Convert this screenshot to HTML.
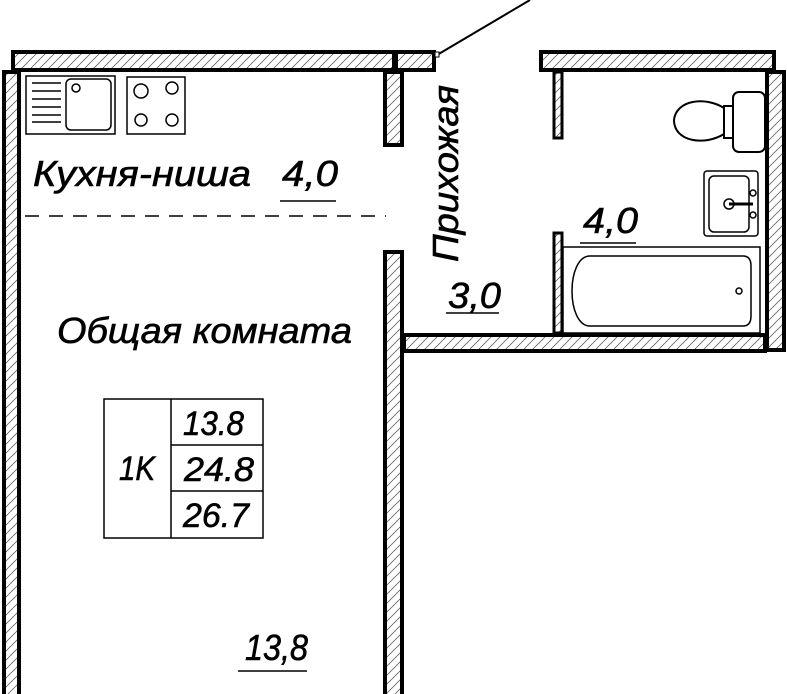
<!DOCTYPE html>
<html><head><meta charset="utf-8"><style>
html,body{margin:0;padding:0;background:#fff;width:787px;height:694px;overflow:hidden}
svg{display:block}
text{font-family:"Liberation Sans","DejaVu Sans",sans-serif;font-style:italic;fill:#000;stroke:#000;stroke-width:0.6}
</style></head><body>
<svg width="787" height="694" viewBox="0 0 787 694" xmlns="http://www.w3.org/2000/svg">
<defs>
<pattern id="h" width="9" height="9" patternUnits="userSpaceOnUse">
<rect width="9" height="9" fill="#fff"/>
<path d="M0 9 L9 0 M-2 2 L2 -2 M7 11 L11 7" stroke="#666" stroke-width="0.8"/>
</pattern>
</defs>
<g fill="url(#h)" stroke="#000" stroke-width="4">
<rect x="13" y="52" width="381" height="18"/>
<rect x="396" y="52" width="38" height="18"/>
<rect x="4" y="72" width="15" height="630"/>
<rect x="385" y="72" width="17" height="73"/>
<rect x="385" y="252" width="17" height="450"/>
<rect x="541" y="52" width="233" height="18"/>
<rect x="767" y="72" width="17" height="278"/>
<rect x="404" y="335" width="361" height="16"/>
</g>
<g fill="url(#h)" stroke="#000" stroke-width="3">
<rect x="554" y="72" width="8" height="66"/>
<rect x="554" y="233" width="8" height="100"/>
</g>
<line x1="437" y1="55" x2="530" y2="0" stroke="#000" stroke-width="2"/>
<rect x="435" y="52" width="4" height="5" fill="#fff" stroke="#000" stroke-width="1"/>
<g fill="none" stroke="#000" stroke-width="1.5">
<rect x="26" y="76" width="89" height="58"/>
<rect x="66" y="79" width="45" height="51" rx="5"/>
<circle cx="76" cy="88" r="4"/>
<path d="M32 83H61M32 91H61M32 99H61M32 107H61M32 115H61M32 122H61"/>
<rect x="127" y="77" width="58" height="57"/>
<circle cx="141" cy="91" r="7"/><circle cx="172" cy="88" r="6"/>
<circle cx="141" cy="120" r="6"/><circle cx="172" cy="120" r="6"/>
</g>
<line x1="25" y1="216" x2="386" y2="216" stroke="#000" stroke-width="1.5" stroke-dasharray="14,10"/>
<g fill="#fff" stroke="#000" stroke-width="2">
<rect x="724" y="106" width="10" height="32"/>
<path d="M724 108 C705 96 676 100 674 120 C674 142 705 146 724 134 Z"/>
<rect x="733" y="92" width="32" height="60" rx="6"/>
</g>
<g fill="none" stroke="#000" stroke-width="1.5">
<rect x="704" y="171" width="54" height="65" rx="3"/>
<rect x="709" y="176" width="40" height="56" rx="5"/>
<circle cx="729" cy="204" r="5"/>
<line x1="729" y1="204" x2="753" y2="204" stroke-width="3"/>
<circle cx="753" cy="193" r="3"/><circle cx="753" cy="215" r="3"/>
</g>
<g fill="none" stroke="#000" stroke-width="1.5">
<rect x="563" y="247" width="197" height="86"/>
<path d="M590 256 H743 Q751 256 751 266 V316 Q751 326 743 326 H590 C566 326 566 256 590 256 Z"/>
<circle cx="739" cy="291" r="3"/>
</g>
<text x="33" y="186" font-size="36" textLength="218" lengthAdjust="spacingAndGlyphs">Кухня-ниша</text>
<text x="282" y="186" font-size="36" textLength="56" lengthAdjust="spacingAndGlyphs">4,0</text>
<line x1="280" y1="201" x2="336" y2="201" stroke="#000" stroke-width="1.5"/>
<text transform="translate(458,262) rotate(-90)" font-size="36" textLength="177" lengthAdjust="spacingAndGlyphs">Прихожая</text>
<text x="448" y="308" font-size="36" textLength="53" lengthAdjust="spacingAndGlyphs">3,0</text>
<line x1="446" y1="313" x2="499" y2="313" stroke="#000" stroke-width="1.5"/>
<text x="583" y="233" font-size="36" textLength="55" lengthAdjust="spacingAndGlyphs">4,0</text>
<line x1="580" y1="243" x2="636" y2="243" stroke="#000" stroke-width="1.5"/>
<text x="57" y="343" font-size="36" textLength="295" lengthAdjust="spacingAndGlyphs">Общая комната</text>
<text x="245" y="660" font-size="36" textLength="63" lengthAdjust="spacingAndGlyphs">13,8</text>
<line x1="238" y1="671" x2="307" y2="671" stroke="#000" stroke-width="1.5"/>
<g fill="none" stroke="#000" stroke-width="1.5">
<rect x="104" y="399" width="159" height="139"/>
<line x1="171" y1="399" x2="171" y2="538"/>
<line x1="171" y1="445" x2="263" y2="445"/>
<line x1="171" y1="491" x2="263" y2="491"/>
</g>
<text x="119" y="480" font-size="34" textLength="36" lengthAdjust="spacingAndGlyphs">1K</text>
<text x="183" y="435" font-size="34" textLength="61" lengthAdjust="spacingAndGlyphs">13.8</text>
<text x="184" y="481" font-size="34" textLength="70" lengthAdjust="spacingAndGlyphs">24.8</text>
<text x="183" y="527" font-size="34" textLength="66" lengthAdjust="spacingAndGlyphs">26.7</text>
</svg>
</body></html>
